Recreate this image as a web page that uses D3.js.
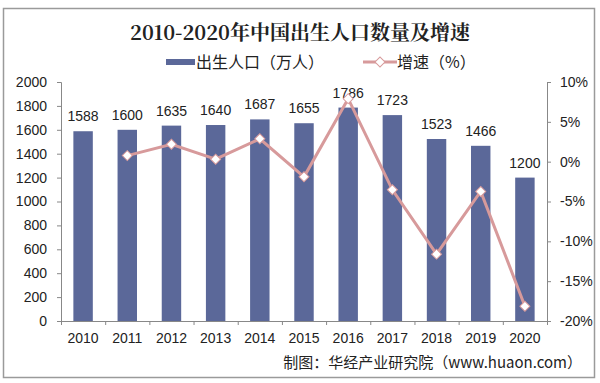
<!DOCTYPE html>
<head>
<meta charset="utf-8">
<style>
body { margin: 0; background: #fff; }
text { font-family: "Liberation Sans", Arial, sans-serif; fill: #222; }
</style>
</head>
<body>
<script src="https://cdn.jsdelivr.net/npm/d3@7"></script>
<script>

var years = ["2010","2011","2012","2013","2014","2015","2016","2017","2018","2019","2020"];
var births = [1588,1600,1635,1640,1687,1655,1786,1723,1523,1466,1200];
// growth rate in %, first year has none
var growth = [null,0.76,2.19,0.31,2.87,-1.90,7.91,-3.53,-11.61,-3.74,-18.14];
var leftTicks = [0,200,400,600,800,1000,1200,1400,1600,1800,2000];
var rightTicks = [-20,-15,-10,-5,0,5,10];

var width = 600, height = 383;
var plotL = 61, plotR = 547, plotT = 82, plotB = 321;

var svg = d3.select("body").append("svg")
    .attr("width", width)
    .attr("height", height);

// frame
svg.append("rect")
    .attr("x", 3.5).attr("y", 8.5)
    .attr("width", 591).attr("height", 369)
    .attr("fill", "none")
    .attr("stroke", "#9a9a9a")
    .attr("stroke-width", 1.5);

var x = d3.scaleBand().domain(years).range([plotL, plotR]).paddingInner(0.56).paddingOuter(0.28);
var y = d3.scaleLinear().domain([0, 2000]).range([plotB, plotT]);
var y2 = d3.scaleLinear().domain([-20, 10]).range([plotB, plotT]);

// axes
var xAxis = svg.append("g")
    .attr("transform", "translate(0," + plotB + ")")
    .call(d3.axisBottom(d3.scalePoint().domain(d3.range(12)).range([plotL, plotR])).tickSize(4).tickFormat(""));
xAxis.select(".domain").attr("stroke", "#888");
xAxis.selectAll("line").attr("stroke", "#888");

var yAxis = svg.append("g")
    .attr("transform", "translate(" + plotL + ",0)")
    .call(d3.axisLeft(y).tickValues(leftTicks).tickSize(4).tickSizeOuter(4).tickFormat(d3.format("d")));
yAxis.select(".domain").attr("stroke", "#888");
yAxis.selectAll("line").attr("stroke", "#888");
yAxis.selectAll("text").attr("x", -14).style("font-size", "14px").attr("fill", "#222");

var yAxis2 = svg.append("g")
    .attr("transform", "translate(" + plotR + ",0)")
    .call(d3.axisRight(y2).tickValues(rightTicks).tickSize(4).tickSizeOuter(4)
        .tickFormat(function(d) { return d + "%"; }));
yAxis2.select(".domain").attr("stroke", "#888");
yAxis2.selectAll("line").attr("stroke", "#888");
yAxis2.selectAll("text").attr("x", 13).style("font-size", "14px").attr("fill", "#222");

// year labels
svg.append("g").selectAll("text")
    .data(years)
    .enter().append("text")
    .attr("x", function(d) { return x(d) + x.bandwidth() / 2; })
    .attr("y", 343)
    .attr("text-anchor", "middle")
    .style("font-size", "14px")
    .text(function(d) { return d; });

// bars
svg.append("g").selectAll("rect")
    .data(births)
    .enter().append("rect")
    .attr("x", function(d, i) { return x(years[i]); })
    .attr("width", x.bandwidth())
    .attr("y", function(d) { return y(d); })
    .attr("height", function(d) { return plotB - y(d); })
    .attr("fill", "#5b6899");

// bar labels
svg.append("g").selectAll("text")
    .data(births)
    .enter().append("text")
    .attr("x", function(d, i) { return x(years[i]) + x.bandwidth() / 2; })
    .attr("y", function(d) { return y(d) - 10; })
    .attr("text-anchor", "middle")
    .style("font-size", "14px")
    .text(function(d) { return d; });

// growth line
var pts = growth.map(function(d, i) { return {year: years[i], v: d}; })
    .filter(function(d) { return d.v !== null; });

var line = d3.line()
    .x(function(d) { return x(d.year) + x.bandwidth() / 2; })
    .y(function(d) { return y2(d.v); });

svg.append("path")
    .datum(pts)
    .attr("d", line)
    .attr("fill", "none")
    .attr("stroke", "#d79a9b")
    .attr("stroke-width", 3);

var diamond = d3.symbol().type(d3.symbolSquare).size(50);
svg.append("g").selectAll("path")
    .data(pts)
    .enter().append("path")
    .attr("d", diamond)
    .attr("transform", function(d) {
      return "translate(" + (x(d.year) + x.bandwidth() / 2) + "," + y2(d.v) + ") rotate(45)";
    })
    .attr("fill", "#fff")
    .attr("stroke", "#d79a9b")
    .attr("stroke-width", 1);

// title
svg.append("text")
    .attr("x", 300)
    .attr("y", 40)
    .attr("text-anchor", "middle")
    .style("font-family", "'Noto Serif CJK SC', 'DejaVu Serif', 'Liberation Serif', serif")
    .style("font-weight", "bold")
    .style("font-size", "20px")
    .text("2010-2020年中国出生人口数量及增速");

// legend
var legend = svg.append("g");
legend.append("rect")
    .attr("x", 166).attr("y", 59)
    .attr("width", 29).attr("height", 6)
    .attr("fill", "#5b6899");
legend.append("text")
    .attr("x", 196).attr("y", 68)
    .style("font-family", "'Noto Sans CJK SC', sans-serif")
    .style("font-size", "16px")
    .text("出生人口（万人）");
legend.append("line")
    .attr("x1", 363).attr("x2", 397)
    .attr("y1", 62).attr("y2", 62)
    .attr("stroke", "#d79a9b")
    .attr("stroke-width", 3);
legend.append("path")
    .attr("d", diamond)
    .attr("transform", "translate(380,62) rotate(45)")
    .attr("fill", "#fff")
    .attr("stroke", "#d79a9b")
    .attr("stroke-width", 1);
legend.append("text")
    .attr("x", 397).attr("y", 68)
    .style("font-family", "'Noto Sans CJK SC', sans-serif")
    .style("font-size", "16px")
    .text("增速（%）");

// source
svg.append("text")
    .attr("x", 582)
    .attr("y", 368)
    .attr("text-anchor", "end")
    .style("font-family", "'Noto Sans CJK SC', sans-serif")
    .style("font-size", "15px")
    .text("制图：华经产业研究院（www.huaon.com）");

</script>
</body>
</html>
